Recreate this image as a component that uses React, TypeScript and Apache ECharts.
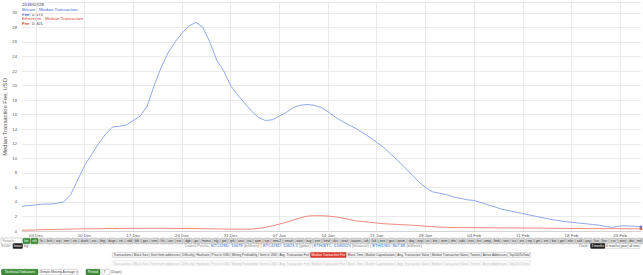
import React, { useEffect, useRef } from "react";
import * as echarts from "echarts";

const FONT = "'Liberation Sans', Arial, sans-serif";
const MONTHS = ["Jan", "Feb", "Mar", "Apr", "May", "Jun", "Jul", "Aug", "Sep", "Oct", "Nov", "Dec"];
const START = Date.UTC(2017, 11, 1);
const DAY = 86400000;

const btcFee = [
  3.4, 3.5, 3.6, 3.7, 3.7, 3.8, 4.0, 5.0, 7.0, 9.0,
  10.5, 12.0, 13.3, 14.3, 14.4, 14.6, 15.2, 15.8, 17.2, 20.0,
  22.5, 24.5, 26.0, 27.2, 28.2, 28.7, 28.0, 26.0, 23.5, 22.0,
  20.0, 18.7, 17.6, 16.5, 15.6, 15.2, 15.3, 15.8, 16.3, 17.0,
  17.3, 17.4, 17.3, 17.0, 16.4, 15.7, 15.1, 14.6, 14.1, 13.5,
  12.9, 12.2, 11.5, 10.6, 9.7, 8.8, 7.8, 6.8, 6.0, 5.4,
  5.2, 5.0, 4.7, 4.5, 4.3, 4.2, 3.9, 3.6, 3.3, 3.0,
  2.8, 2.6, 2.4, 2.2, 2.0, 1.8, 1.6, 1.45, 1.3, 1.2,
  1.1, 1.0, 0.9, 0.8, 0.6, 0.5, 0.7, 0.7, 0.65, 0.575,
];

const ethFee = [
  0.10, 0.12, 0.15, 0.18, 0.20, 0.22, 0.24, 0.26, 0.28, 0.30,
  0.30, 0.32, 0.33, 0.34, 0.35, 0.36, 0.37, 0.37, 0.38, 0.38,
  0.38, 0.37, 0.36, 0.35, 0.34, 0.33, 0.32, 0.30, 0.28, 0.27,
  0.26, 0.25, 0.25, 0.25, 0.35, 0.50, 0.70, 0.95, 1.20, 1.50,
  1.80, 2.05, 2.10, 2.10, 2.05, 1.95, 1.80, 1.60, 1.40, 1.30,
  1.20, 1.10, 1.00, 0.95, 0.90, 0.85, 0.80, 0.75, 0.65, 0.60,
  0.55, 0.50, 0.48, 0.47, 0.46, 0.45, 0.45, 0.44, 0.44, 0.43,
  0.42, 0.42, 0.41, 0.40, 0.40, 0.39, 0.38, 0.37, 0.36, 0.35,
  0.35, 0.34, 0.33, 0.33, 0.32, 0.32, 0.31, 0.31, 0.30, 0.301,
];

const yTickInterval = 2;
const yMax = 31.5;
const yAxisTitle = "Median Transaction Fee, USD";

const dayCount = btcFee.length;
const dateOf = (i: number) => new Date(START + i * DAY);
const categories = Array.from({ length: dayCount }, (_, i) => {
  const d = dateOf(i);
  return `${String(d.getUTCDate()).padStart(2, "0")} ${MONTHS[d.getUTCMonth()]}`;
});
const isSunday = (i: number) => dateOf(i).getUTCDay() === 0;

const coinTickers = [
  "btc", "eth", "ltc", "bch", "xrp", "xmr", "etc", "dash", "zec", "btg", "doge", "vtc", "rdd",
  "blk", "ppc", "nmc", "ftc", "aur", "nvc", "dgb", "grc", "mona", "nlg", "pot", "qrk", "uno",
  "via", "xpm", "sys", "emc2", "smart", "start", "xvg", "zen", "kmd", "dcr", "strat", "waves",
  "ark", "lsk", "neo", "gas", "qtum", "ubq", "exp", "sc", "bts", "xem", "xlm", "ada", "eos",
  "trx", "omg", "bnb", "ven", "icx", "zrx", "rep", "gnt", "snt", "bat", "ppt", "mkr", "salt",
  "pay", "fun", "knc", "cvc", "storj", "dnt", "mtl", "ant", "edg", "rlc", "mco", "wtc", "req",
];
const selectedCoins = ["btc", "eth"];

const metricButtons = [
  "Transactions", "Block Size", "Sent from addresses", "Difficulty", "Hashrate", "Price in USD",
  "Mining Profitability", "Sent in USD", "Avg. Transaction Fee", "Median Transaction Fee",
  "Block Time", "Market Capitalization", "Avg. Transaction Value", "Median Transaction Value",
  "Tweets", "Active Addresses", "Top100ToTotal",
];
const activeMetric = "Median Transaction Fee";

const zoomButtons = ["3 months", "6 months", "year", "all time"];

let measureCtx: CanvasRenderingContext2D | null = null;
function textWidth(text: string, size: number) {
  if (!measureCtx) measureCtx = document.createElement("canvas").getContext("2d");
  if (!measureCtx) return text.length * size * 0.5;
  measureCtx.font = `${size}px ${FONT}`;
  return measureCtx.measureText(text).width;
}

function txt(x: number, y: number, text: string, size: number, fill: string, align = "left", weight = "normal") {
  return {
    type: "text",
    x,
    y,
    silent: true,
    style: { text, fontSize: size, lineHeight: size, fontFamily: FONT, fill, align, verticalAlign: "middle", fontWeight: weight },
  };
}

function button(x: number, y: number, w: number, h: number, label: string, fill: string, stroke: string, color: string, size: number) {
  return [
    {
      type: "rect",
      silent: true,
      shape: { x, y, width: w, height: h, r: 0.8 },
      style: { fill, stroke, lineWidth: 0.5 },
    },
    txt(x + w / 2, y + h / 2 + 0.2, label, size, color, "center"),
  ];
}

function richStyle(fill: string, size: number, weight = "normal") {
  return { fill, fontSize: size, lineHeight: size, fontFamily: FONT, fontWeight: weight };
}

function buildGraphics() {
  const els: any[] = [];
  const lastIdx = dayCount - 1;
  const d = dateOf(lastIdx);
  const dateStr = `${d.getUTCFullYear()}/${String(d.getUTCMonth() + 1).padStart(2, "0")}/${String(d.getUTCDate()).padStart(2, "0")}`;

  // y-axis title (rotated)
  els.push({
    type: "text", x: 5, y: 117, rotation: Math.PI / 2, silent: true,
    style: { text: yAxisTitle, fontSize: 5.8, lineHeight: 5.8, fontFamily: FONT, fill: "#555", align: "center", verticalAlign: "middle" },
  });

  const ls = 4.4;
  els.push(txt(22, 4.8, dateStr, ls, "#333"));
  els.push(txt(22, 9.5, "Bitcoin - Median Transaction", ls, "#3a5fd0"));
  els.push({
    type: "text", x: 22, y: 14.1, silent: true,
    style: {
      text: `{a|Fee}{b|: ${btcFee[lastIdx]}}`, verticalAlign: "middle", fontSize: ls, lineHeight: ls, fontFamily: FONT,
      rich: { a: richStyle("#3a5fd0", ls, "bold"), b: richStyle("#444", ls) },
    },
  });
  els.push(txt(22, 18.8, "Ethereum - Median Transaction", ls, "#e0452f"));
  els.push({
    type: "text", x: 22, y: 23.4, silent: true,
    style: {
      text: `{a|Fee}{b|: ${ethFee[lastIdx]}}`, verticalAlign: "middle", fontSize: ls, lineHeight: ls, fontFamily: FONT,
      rich: { a: richStyle("#e0452f", ls, "bold"), b: richStyle("#444", ls) },
    },
  });

  // search + coin row
  els.push({ type: "rect", silent: true, shape: { x: 1, y: 238, width: 21, height: 6 }, style: { fill: "#fff", stroke: "#aaa", lineWidth: 0.5 } });
  els.push(txt(2.5, 241.2, "Search", 3.6, "#888"));
  let cx = 23;
  const cs = 3.3;
  for (const c of coinTickers) {
    const w = textWidth(c, cs) + 2.6;
    if (cx + w > 643) break;
    const sel = selectedCoins.includes(c);
    els.push(...button(cx, 238.2, w, 5.6, c, sel ? "#3f8f3a" : "#d9d9d9", sel ? "#2f6f2a" : "#9a9a9a", sel ? "#fff" : "#333", cs));
    cx += w + 0.9;
  }

  // scale row
  els.push(txt(1, 245.8, "Scale:", 3.6, "#888"));
  els.push(...button(13, 243.5, 9.5, 5, "linear", "#222", "#222", "#fff", 3.3));
  els.push(txt(23.5, 245.8, "log", 3.6, "#666"));

  const ps = 4.1;
  els.push({
    type: "text", x: 185, y: 245.8, silent: true,
    style: {
      text: "{g|Latest Prices: }{b|BTC/USD: 10678}{g| (bitfinex) | }{b|BTC/USD: 10623.5}{g| (gdax) | }{b|ETH/BTC: 0.080023}{g| (binance) | }{b|ETH/USD: 867.88}{g| (bitfinex)}",
      verticalAlign: "middle", fontSize: ps, lineHeight: ps, fontFamily: FONT,
      rich: { g: richStyle("#888", ps), b: richStyle("#2f6fd6", ps) },
    },
  });

  // zoom buttons
  els.push(txt(578.5, 245.8, "Zoom:", 3.7, "#888"));
  const zs = 3.1;
  let zx = 590.5;
  zoomButtons.forEach((z, i) => {
    const w = textWidth(z, zs) + 1.8;
    els.push(...button(zx, 243.4, w, 5, z, i === 0 ? "#222" : "#fff", i === 0 ? "#222" : "#bbb", i === 0 ? "#fff" : "#444", zs));
    zx += w + 0.3;
  });

  // metric rows
  const ms = 3.15;
  const widths = metricButtons.map((m) => textWidth(m, ms) + 2.4);
  const total = widths.reduce((a, b) => a + b, 0);
  let mx = 321.5 - total / 2;
  metricButtons.forEach((m, i) => {
    const act = m === activeMetric;
    els.push(...button(mx, 252.4, widths[i], 5, m, act ? "#e03a2f" : "#f4f4f4", act ? "#c02a20" : "#bbb", act ? "#fff" : "#444", ms));
    els.push(...button(mx, 260.6, widths[i], 5, m, "#fbfbfb", "#e4e4e4", "#c4c4c4", ms));
    mx += widths[i];
  });

  // technical indicators row
  els.push(...button(1.5, 269.3, 36.5, 5.6, "Technical Indicators", "#3f8f3a", "#2f6f2a", "#fff", 3.4));
  els.push(...button(40, 269.3, 38, 5.6, "Simple Moving Average \u25be", "#fff", "#aaa", "#444", 3.3));
  els.push(...button(86, 269.3, 14, 5.6, "Period", "#3f8f3a", "#2f6f2a", "#fff", 3.4));
  els.push({ type: "rect", silent: true, shape: { x: 102, y: 269.3, width: 8, height: 5.6 }, style: { fill: "#fff", stroke: "#aaa", lineWidth: 0.5 } });
  els.push(txt(103.5, 272.3, "7", 3.6, "#333"));
  els.push(txt(111, 272.3, "(Days)", 3.6, "#555"));
  return els;
}

export default function App() {
  const ref = useRef<HTMLDivElement>(null);
  useEffect(() => {
    if (!ref.current) return;
    const chart = echarts.init(ref.current, undefined, { renderer: "svg" });
    const lastIdx = dayCount - 1;
    chart.setOption({
      animation: false,
      backgroundColor: "#fff",
      grid: { left: 22, right: 2, top: 2, bottom: 44, containLabel: false, outerBoundsMode: "none" },
      xAxis: {
        type: "category",
        data: categories,
        boundaryGap: false,
        axisLine: { show: true, lineStyle: { color: "#cfcfcf", width: 0.8 } },
        axisTick: { show: false },
        axisLabel: {
          interval: (i: number) => isSunday(i),
          fontSize: 4.4,
          fontFamily: FONT,
          color: "#555",
          margin: 2,
        },
        splitLine: {
          show: true,
          interval: (i: number) => isSunday(i),
          lineStyle: { color: "#e2e2e2", width: 0.8 },
        },
      },
      yAxis: {
        type: "value",
        min: 0,
        max: yMax,
        interval: yTickInterval,
        axisLine: { show: false },
        axisTick: { show: false },
        axisLabel: { fontSize: 4.2, fontFamily: FONT, color: "#555", margin: 5, showMaxLabel: false },
        splitLine: { lineStyle: { color: "#e6e6e6", width: 0.8 } },
      },
      series: [
        {
          name: "Bitcoin - Median Transaction Fee",
          type: "line",
          data: btcFee,
          showSymbol: false,
          lineStyle: { color: "#8ea8ea", width: 1 },
          itemStyle: { color: "#8ea8ea" },
          z: 3,
        },
        {
          name: "Ethereum - Median Transaction Fee",
          type: "line",
          data: ethFee,
          showSymbol: false,
          lineStyle: { color: "#f08a7c", width: 1 },
          itemStyle: { color: "#f08a7c" },
          z: 2,
        },
        {
          type: "scatter",
          data: [[lastIdx, btcFee[lastIdx]]],
          symbol: "rect",
          symbolSize: 2.5,
          itemStyle: { color: "#4a6fe0" },
          z: 5,
        },
        {
          type: "scatter",
          data: [[lastIdx, ethFee[lastIdx]]],
          symbol: "rect",
          symbolSize: 2.5,
          itemStyle: { color: "#e0452f" },
          z: 5,
        },
      ],
      graphic: { elements: buildGraphics() },
    });
    return () => chart.dispose();
  }, []);
  return (
    <div style={{ position: "fixed", left: 0, top: 0, width: 643, height: 275, background: "#fff" }}>
      <div ref={ref} style={{ width: 643, height: 275 }} />
    </div>
  );
}
